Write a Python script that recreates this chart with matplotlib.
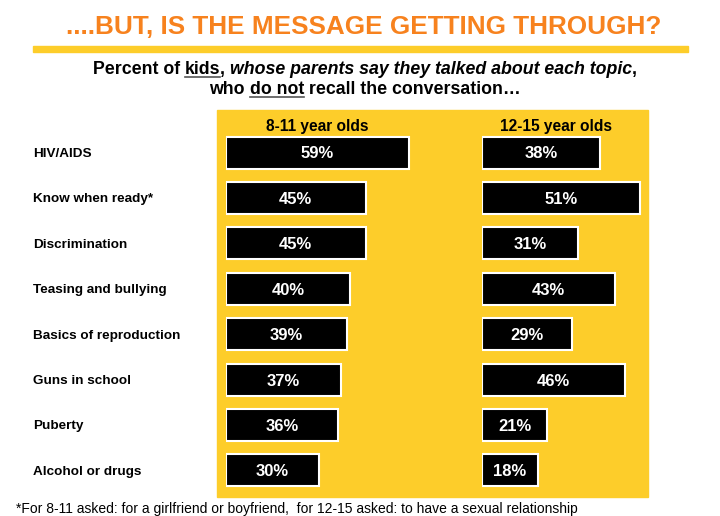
import matplotlib
matplotlib.use('Agg')
import matplotlib.pyplot as plt
from matplotlib.patches import Rectangle
from matplotlib.lines import Line2D

plt.rcParams['font.family'] = ['Liberation Sans', 'DejaVu Sans']

# data
topics = ['HIV/AIDS', 'Know when ready*', 'Discrimination', 'Teasing and bullying',
          'Basics of reproduction', 'Guns in school', 'Puberty', 'Alcohol or drugs']
kids_8_11 = [59, 45, 45, 40, 39, 37, 36, 30]
kids_12_15 = [38, 51, 31, 43, 29, 46, 21, 18]
groups = ['8-11 year olds', '12-15 year olds']

title = '....BUT, IS THE MESSAGE GETTING THROUGH?'
footnote = '*For 8-11 asked: for a girlfriend or boyfriend,  for 12-15 asked: to have a sexual relationship'

W, H = 720, 516
YELLOW = '#FDCD2A'
ORANGE = '#F7821E'


def fx(px):
    return px / W


def fy(py):
    return 1 - py / H


fig = plt.figure(figsize=(7.2, 5.16), dpi=100)

# yellow panel + title rule
fig.patches.append(Rectangle((fx(217), fy(497)), fx(648) - fx(217), fy(110) - fy(497),
                             transform=fig.transFigure, color=YELLOW, zorder=-5))
fig.patches.append(Rectangle((fx(33), fy(52)), fx(688) - fx(33), fy(46) - fy(52),
                             transform=fig.transFigure, color=YELLOW, zorder=-5))

renderer = fig.canvas.get_renderer()

# title: no narrow font here, so size it to the reference width
t = fig.text(fx(364), fy(34), title, ha='center', va='baseline', color=ORANGE,
             fontsize=23, fontweight='bold')
tw = t.get_window_extent(renderer).width
t.set_fontsize(23 * 596 / tw)


def rich_line(segments, cx, base_y, size=12.8):
    # draw pieces side by side, centred on cx (pixels)
    arts = []
    for txt, style, ul in segments:
        t = fig.text(0, fy(base_y), txt, fontsize=size, fontweight='bold', fontstyle=style,
                     va='baseline', ha='left')
        arts.append((t, ul))
    widths = [t.get_window_extent(renderer).width for t, _ in arts]
    x = cx - sum(widths) / 2
    for (t, ul), w in zip(arts, widths):
        t.set_x(fx(x))
        if ul:
            fig.lines.append(Line2D([fx(x), fx(x + w)], [fy(base_y + 3), fy(base_y + 3)],
                                    transform=fig.transFigure, color='#555555', lw=1.2))
        x += w


rich_line([('Percent of ', 'normal', False), ('kids', 'normal', True), (', ', 'normal', False),
           ('whose parents say they talked about each topic', 'italic', False),
           (',', 'normal', False)], 365, 74)
rich_line([('who ', 'normal', False), ('do not', 'normal', True),
           (' recall the conversation\u2026', 'normal', False)], 365, 94)

# bar axes, 3.1 px per percentage point
scale = 3.1
row_top, row_step = 152.5, 45.4
ylim = ((497 - row_top) / row_step, (130 - row_top) / row_step)
panels = [(226, 460, kids_8_11, groups[0], 317), (482, 648, kids_12_15, groups[1], 556)]
ypos = list(range(len(topics)))

axes = []
for left, right, vals, grp, hx in panels:
    ax = fig.add_axes([fx(left), fy(497), fx(right) - fx(left), fy(130) - fy(497)])
    ax.set_xlim(0, (right - left) / scale)
    ax.set_ylim(*ylim)
    ax.barh(ypos, vals, height=32 / row_step, color='black', edgecolor='white', linewidth=1.5)
    for y, v in zip(ypos, vals):
        ax.text(v / 2, y, f'{v}%', ha='center', va='center_baseline', color='white',
                fontsize=12, fontweight='bold')
    ax.set_axis_off()
    fig.text(fx(hx), fy(125), grp, ha='center', va='center_baseline', fontsize=11.2,
             fontweight='bold')
    axes.append(ax)

for y, topic in zip(ypos, topics):
    axes[0].text(-(226 - 33) / scale, y, topic, ha='left', va='center_baseline', fontsize=9.7,
                 fontweight='bold', clip_on=False)

fig.text(fx(16), fy(508), footnote, ha='left', va='center_baseline', fontsize=10)

fig.savefig('out.png', dpi=100)
